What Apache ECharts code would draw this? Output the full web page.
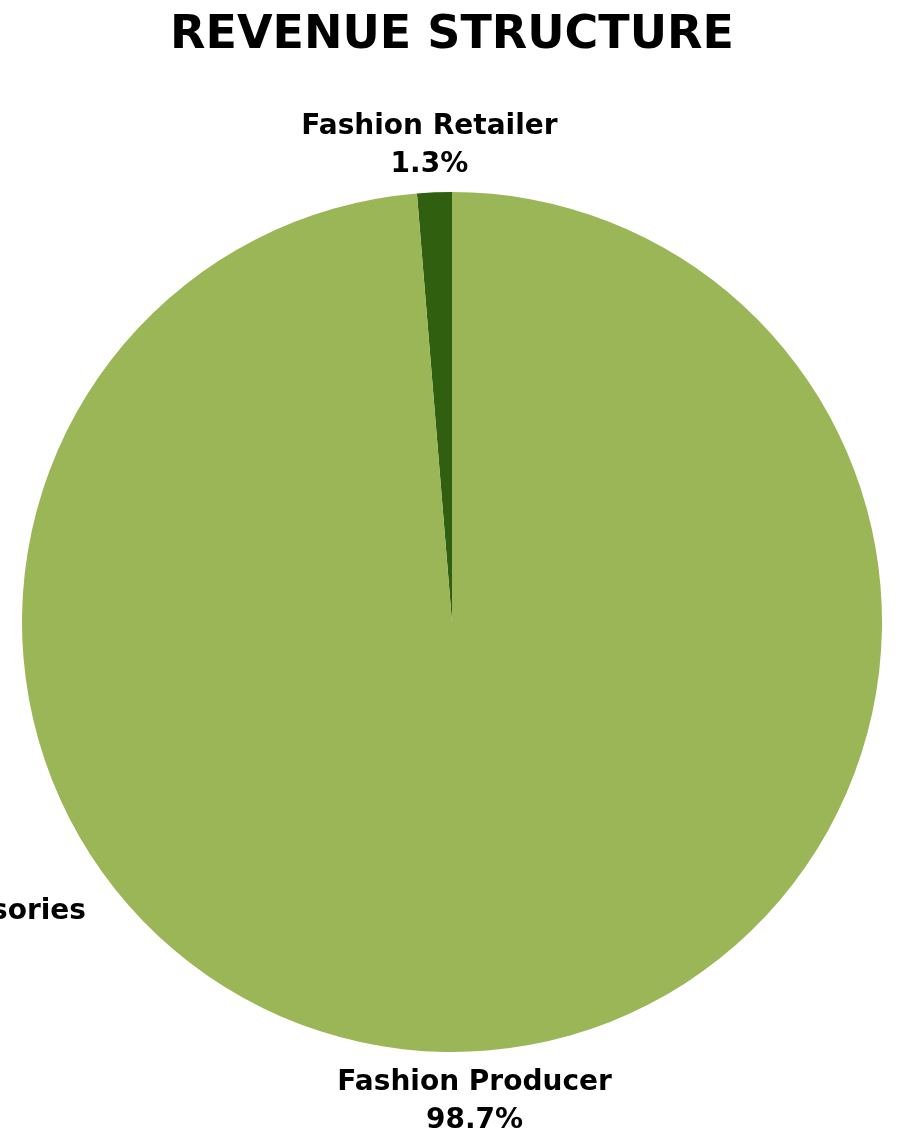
<!DOCTYPE html>
<html>
<head>
<meta charset="utf-8">
<script src="https://cdn.jsdelivr.net/npm/echarts@6/dist/echarts.min.js"></script>
<style>
  html, body { margin: 0; padding: 0; background: #fff; }
  #chart { width: 904px; height: 1145px; }
</style>
</head>
<body>
<div id="chart"></div>
<script>
  // revenue shares, in %
  const categories = ['Fashion Retailer', 'Fashion Producer', 'Fashion Accessories'];
  const shares = [1.3, 98.7, 0];
  const colors = ['#30600f', '#9bb657', '#9bb657'];

  const fontFamily = '"DejaVu Sans", sans-serif';

  const chart = echarts.init(document.getElementById('chart'));

  chart.setOption({
    title: {
      text: 'REVENUE STRUCTURE',
      left: 'center',
      top: 8,
      textStyle: {
        color: '#000',
        fontFamily: fontFamily,
        fontWeight: 'bold',
        fontSize: 46
      }
    },
    series: [{
      type: 'pie',
      center: ['50%', 622],
      radius: 430,
      startAngle: 90,
      clockwise: false,
      animation: false,
      label: {
        show: true,
        position: 'outside',
        overflow: 'none',
        formatter: function (p) {
          return p.value ? p.name + '\n' + p.value.toFixed(1) + '%' : p.name;
        },
        color: '#000',
        fontFamily: fontFamily,
        fontWeight: 'bold',
        fontSize: 28,
        lineHeight: 38
      },
      labelLine: { show: false, length: 0, length2: 0 },
      labelLayout: function (p) {
        if (p.dataIndex === 0) {
          return { align: 'center', verticalAlign: 'bottom', dy: -9 };
        }
        if (p.dataIndex === 1) {
          return { align: 'center', verticalAlign: 'top', dy: 12 };
        }
        return { x: 86, y: 912, align: 'right', verticalAlign: 'middle', width: 400 };
      },
      itemStyle: { borderWidth: 0 },
      data: categories.map(function (name, i) {
        return { name: name, value: shares[i], itemStyle: { color: colors[i] } };
      })
    }]
  });
</script>
</body>
</html>
